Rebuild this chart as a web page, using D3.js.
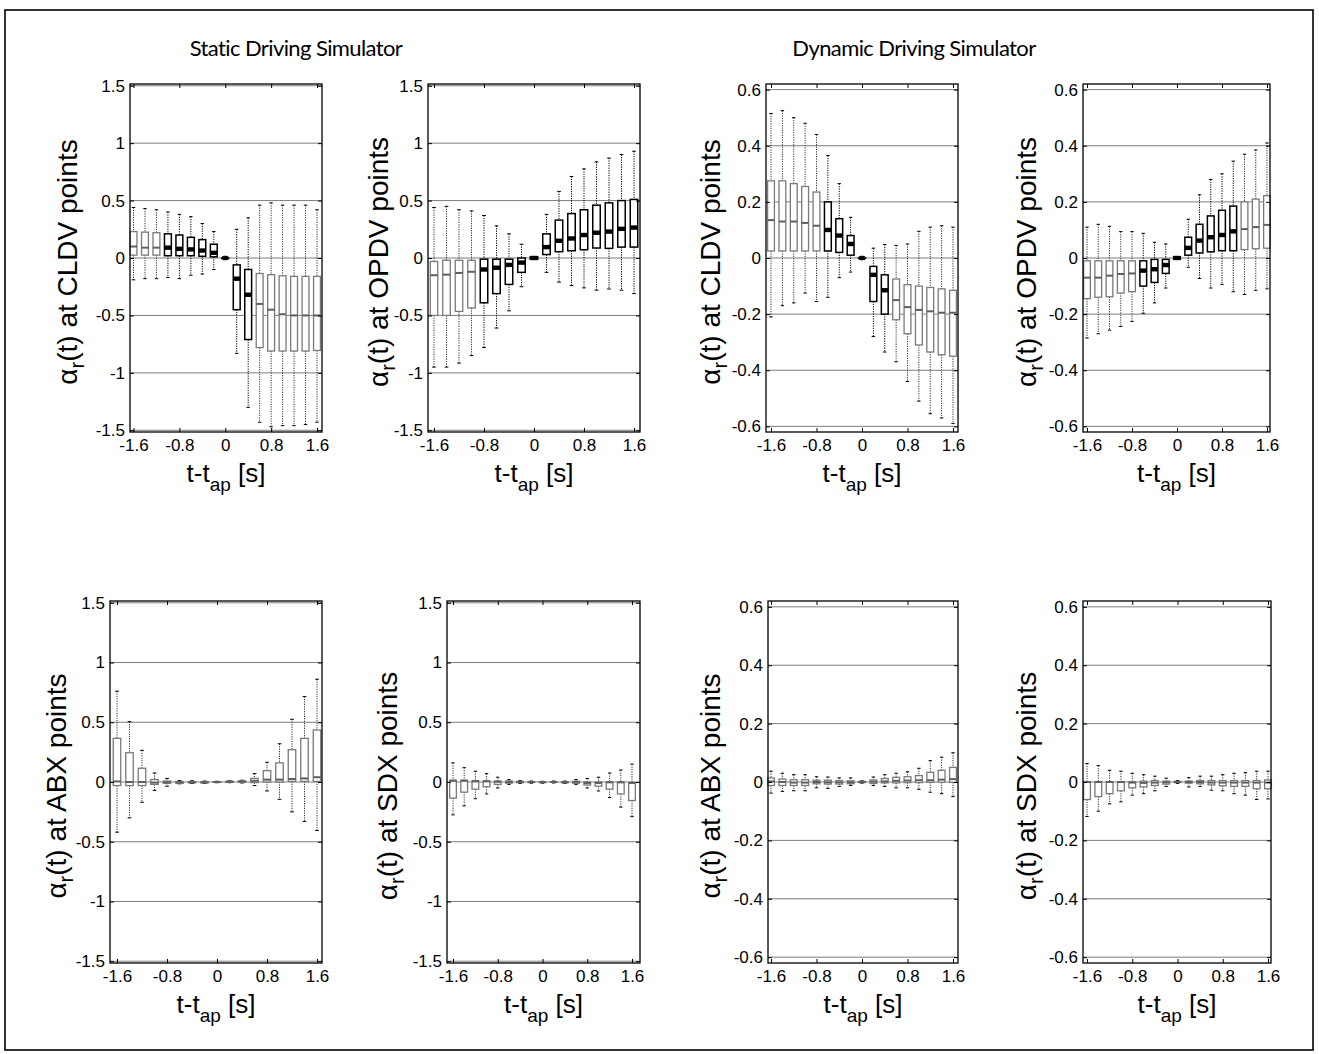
<!DOCTYPE html>
<html>
<head>
<meta charset="utf-8">
<script src="https://cdn.jsdelivr.net/npm/d3@7"></script>
<style>
  body { margin: 0; background: #fff; }
  svg text { font-family: "Liberation Sans", Arial, sans-serif; fill: #000; }
</style>
</head>
<body>
<svg id="fig" width="1319" height="1054"></svg>
<script>
// time offsets of the boxes (t - t_ap, seconds)
const times = [-1.6, -1.4, -1.2, -1.0, -0.8, -0.6, -0.4, -0.2, 0, 0.2, 0.4, 0.6, 0.8, 1.0, 1.2, 1.4, 1.6];
const xTicks = [-1.6, -0.8, 0, 0.8, 1.6];
const yTicksStatic = [-1.5, -1, -0.5, 0, 0.5, 1, 1.5];
const yTicksDynamic = [-0.6, -0.4, -0.2, 0, 0.2, 0.4, 0.6];
const groupTitles = ['Static Driving Simulator', 'Dynamic Driving Simulator'];

// each row: [lower whisker, q1, median, q3, upper whisker]
const staticCLDV = [
  [-0.19, 0.025, 0.10, 0.23, 0.44], [-0.18, 0.025, 0.09, 0.225, 0.43], [-0.18, 0.025, 0.09, 0.22, 0.42],
  [-0.17, 0.02, 0.09, 0.21, 0.40], [-0.18, 0.02, 0.08, 0.20, 0.38], [-0.15, 0.02, 0.075, 0.18, 0.36],
  [-0.14, 0.015, 0.065, 0.16, 0.30], [-0.10, 0.01, 0.045, 0.12, 0.23], [0, 0, 0, 0, 0],
  [-0.83, -0.45, -0.18, -0.06, 0.25], [-1.30, -0.71, -0.32, -0.10, 0.35], [-1.43, -0.78, -0.40, -0.135, 0.46],
  [-1.47, -0.81, -0.45, -0.145, 0.48], [-1.46, -0.81, -0.49, -0.155, 0.46], [-1.46, -0.81, -0.50, -0.16, 0.46],
  [-1.45, -0.81, -0.50, -0.16, 0.46], [-1.43, -0.805, -0.50, -0.16, 0.42]
];
const staticCLDVDark = [0, 0, 0, 1, 1, 1, 1, 1, 1, 1, 1, 0, 0, 0, 0, 0, 0];

const staticOPDV = [
  [-0.95, -0.50, -0.15, -0.03, 0.44], [-0.95, -0.50, -0.145, -0.02, 0.45], [-0.915, -0.465, -0.13, -0.02, 0.42],
  [-0.85, -0.435, -0.12, -0.02, 0.41], [-0.78, -0.39, -0.10, -0.01, 0.37], [-0.61, -0.31, -0.085, -0.01, 0.28],
  [-0.46, -0.23, -0.06, -0.01, 0.21], [-0.25, -0.125, -0.04, 0, 0.12], [-0.01, -0.01, 0, 0.01, 0.01],
  [-0.125, 0.03, 0.095, 0.21, 0.38], [-0.21, 0.055, 0.15, 0.33, 0.58], [-0.24, 0.063, 0.17, 0.387, 0.71],
  [-0.26, 0.072, 0.20, 0.42, 0.776], [-0.28, 0.087, 0.22, 0.46, 0.837], [-0.27, 0.084, 0.23, 0.48, 0.87],
  [-0.28, 0.095, 0.254, 0.50, 0.90], [-0.31, 0.095, 0.265, 0.51, 0.93]
];
const staticOPDVDark = [0, 0, 0, 0, 1, 1, 1, 1, 1, 1, 1, 1, 1, 1, 1, 1, 1];

const dynamicCLDV = [
  [-0.21, 0.025, 0.135, 0.275, 0.515], [-0.17, 0.025, 0.13, 0.275, 0.525], [-0.16, 0.025, 0.13, 0.265, 0.50],
  [-0.125, 0.025, 0.125, 0.255, 0.48], [-0.155, 0.025, 0.115, 0.235, 0.44], [-0.14, 0.025, 0.10, 0.20, 0.365],
  [-0.07, 0.02, 0.08, 0.14, 0.265], [-0.05, 0.01, 0.05, 0.08, 0.145], [0, 0, 0, 0, 0],
  [-0.28, -0.155, -0.06, -0.03, 0.035], [-0.335, -0.20, -0.115, -0.06, 0.048], [-0.37, -0.22, -0.15, -0.075, 0.045],
  [-0.44, -0.27, -0.175, -0.095, 0.05], [-0.51, -0.31, -0.185, -0.10, 0.095], [-0.555, -0.335, -0.19, -0.105, 0.11],
  [-0.57, -0.345, -0.195, -0.11, 0.115], [-0.59, -0.35, -0.195, -0.115, 0.11]
];
const dynamicCLDVDark = [0, 0, 0, 0, 0, 1, 1, 1, 1, 1, 1, 0, 0, 0, 0, 0, 0];

const dynamicOPDV = [
  [-0.285, -0.145, -0.07, -0.01, 0.11], [-0.27, -0.14, -0.07, -0.01, 0.12], [-0.257, -0.138, -0.063, -0.01, 0.113],
  [-0.244, -0.125, -0.057, -0.01, 0.094], [-0.226, -0.12, -0.055, -0.01, 0.094], [-0.197, -0.10, -0.045, -0.01, 0.088],
  [-0.16, -0.087, -0.04, -0.005, 0.056], [-0.107, -0.055, -0.025, -0.005, 0.05], [-0.004, -0.004, 0, 0.004, 0.004],
  [-0.033, 0.01, 0.036, 0.074, 0.138], [-0.073, 0.018, 0.062, 0.12, 0.225], [-0.107, 0.022, 0.074, 0.15, 0.28],
  [-0.094, 0.026, 0.082, 0.17, 0.30], [-0.12, 0.026, 0.095, 0.185, 0.345], [-0.13, 0.03, 0.103, 0.20, 0.37],
  [-0.115, 0.033, 0.11, 0.21, 0.385], [-0.11, 0.035, 0.118, 0.222, 0.41]
];
const dynamicOPDVDark = [0, 0, 0, 0, 0, 1, 1, 1, 1, 1, 1, 1, 1, 1, 0, 0, 0];

const staticABX = [
  [-0.42, -0.03, 0.005, 0.365, 0.76], [-0.30, -0.03, 0, 0.245, 0.505], [-0.17, -0.03, 0, 0.115, 0.265],
  [-0.07, -0.02, -0.005, 0.02, 0.075], [-0.035, -0.01, -0.003, 0.008, 0.03], [-0.015, -0.01, -0.004, 0.004, 0.012],
  [-0.012, -0.006, -0.002, 0.003, 0.01], [-0.012, -0.007, -0.003, 0.002, 0.008], [-0.006, -0.003, 0, 0.003, 0.006],
  [-0.006, -0.002, 0.002, 0.006, 0.01], [-0.008, -0.002, 0.004, 0.009, 0.015], [-0.03, -0.005, 0.01, 0.03, 0.07],
  [-0.075, 0, 0.02, 0.095, 0.165], [-0.145, 0, 0.02, 0.16, 0.32], [-0.25, 0.005, 0.025, 0.27, 0.525],
  [-0.33, 0.005, 0.03, 0.365, 0.715], [-0.405, 0.005, 0.04, 0.435, 0.86]
];

const staticSDX = [
  [-0.275, -0.135, 0.01, 0.015, 0.16], [-0.20, -0.085, 0.01, 0.015, 0.12], [-0.14, -0.06, 0.005, 0.012, 0.09],
  [-0.10, -0.04, 0.005, 0.01, 0.07], [-0.05, -0.02, 0.002, 0.008, 0.04], [-0.02, -0.01, 0, 0.008, 0.02],
  [-0.012, -0.005, 0, 0.005, 0.012], [-0.01, -0.004, 0, 0.003, 0.008], [-0.01, -0.004, -0.002, 0.002, 0.006],
  [-0.008, -0.003, 0, 0.003, 0.008], [-0.012, -0.006, -0.002, 0.003, 0.008], [-0.02, -0.01, -0.002, 0.006, 0.02],
  [-0.05, -0.025, -0.008, 0, 0.03], [-0.075, -0.035, -0.008, 0, 0.04], [-0.13, -0.06, -0.003, 0, 0.075],
  [-0.21, -0.10, -0.003, 0, 0.10], [-0.29, -0.155, -0.008, -0.005, 0.15]
];

const dynamicABX = [
  [-0.038, -0.012, 0.002, 0.014, 0.037], [-0.032, -0.012, 0, 0.01, 0.03], [-0.03, -0.012, -0.002, 0.008, 0.025],
  [-0.03, -0.012, -0.002, 0.008, 0.025], [-0.02, -0.006, 0, 0.006, 0.018], [-0.022, -0.007, -0.001, 0.006, 0.017],
  [-0.015, -0.007, -0.001, 0.005, 0.014], [-0.012, -0.006, -0.001, 0.004, 0.014], [-0.004, -0.002, 0, 0.002, 0.004],
  [-0.012, -0.005, 0.001, 0.007, 0.017], [-0.015, -0.003, 0.002, 0.012, 0.025], [-0.02, -0.003, 0.004, 0.016, 0.03],
  [-0.02, -0.002, 0.005, 0.018, 0.035], [-0.025, -0.002, 0.006, 0.022, 0.047], [-0.035, -0.001, 0.006, 0.033, 0.073],
  [-0.04, -0.001, 0.008, 0.04, 0.085], [-0.05, -0.001, 0.01, 0.05, 0.10]
];

const dynamicSDX = [
  [-0.118, -0.06, 0, 0.001, 0.063], [-0.10, -0.05, 0, 0.001, 0.056], [-0.075, -0.04, 0, 0.001, 0.04],
  [-0.068, -0.03, 0, 0.001, 0.037], [-0.045, -0.02, -0.002, 0.001, 0.03], [-0.04, -0.017, -0.003, 0.003, 0.025],
  [-0.03, -0.012, -0.002, 0.005, 0.02], [-0.015, -0.007, -0.001, 0.003, 0.013], [-0.005, -0.002, 0, 0.002, 0.005],
  [-0.017, -0.004, 0, 0.003, 0.015], [-0.015, -0.006, 0, 0.005, 0.02], [-0.028, -0.01, -0.002, 0.005, 0.02],
  [-0.03, -0.013, -0.002, 0.005, 0.025], [-0.04, -0.015, -0.002, 0.005, 0.03], [-0.045, -0.015, -0.002, 0.005, 0.032],
  [-0.06, -0.023, -0.002, 0.005, 0.037], [-0.058, -0.023, -0.002, 0.007, 0.037]
];
const noDark = times.map(() => 0);

// panel layout (pixel frame + where the outer boxes sit)
const panels = [
  { name: 'CLDV', data: staticCLDV, dark: staticCLDVDark, ticks: yTicksStatic, lim: 1.515, left: 130, right: 322, b0: 133.5, b1: 317, top: 84, bottom: 432, labelX: 77 },
  { name: 'OPDV', data: staticOPDV, dark: staticOPDVDark, ticks: yTicksStatic, lim: 1.515, left: 428, right: 640, b0: 434, b1: 634, top: 84, bottom: 432, labelX: 388 },
  { name: 'CLDV', data: dynamicCLDV, dark: dynamicCLDVDark, ticks: yTicksDynamic, lim: 0.62, left: 766, right: 958, b0: 771, b1: 953, top: 84, bottom: 432, labelX: 720 },
  { name: 'OPDV', data: dynamicOPDV, dark: dynamicOPDVDark, ticks: yTicksDynamic, lim: 0.62, left: 1083, right: 1270, b0: 1087, b1: 1267, top: 84, bottom: 432, labelX: 1036 },
  { name: 'ABX', data: staticABX, dark: noDark, ticks: yTicksStatic, lim: 1.515, left: 110, right: 322, b0: 117, b1: 317, top: 601, bottom: 963, labelX: 66 },
  { name: 'SDX', data: staticSDX, dark: noDark, ticks: yTicksStatic, lim: 1.515, left: 447, right: 640, b0: 453, b1: 632, top: 601, bottom: 963, labelX: 397 },
  { name: 'ABX', data: dynamicABX, dark: noDark, ticks: yTicksDynamic, lim: 0.62, left: 768, right: 958, b0: 771, b1: 953, top: 601, bottom: 963, labelX: 720 },
  { name: 'SDX', data: dynamicSDX, dark: noDark, ticks: yTicksDynamic, lim: 0.62, left: 1083, right: 1271, b0: 1087, b1: 1268, top: 601, bottom: 963, labelX: 1036 }
];

const svg = d3.select('#fig');

// outer frame
svg.append('rect')
  .attr('x', 5).attr('y', 10).attr('width', 1308).attr('height', 1040)
  .attr('fill', 'none').attr('stroke', '#000').attr('stroke-width', 1.6);

// group titles
svg.selectAll('.title')
  .data(groupTitles)
  .enter()
  .append('text')
  .attr('class', 'title')
  .attr('x', (d, i) => [296, 914][i])
  .attr('y', 56)
  .attr('text-anchor', 'middle')
  .style('font-family', 'Lato, "Open Sans", sans-serif')
  .style('font-size', '22px')
  .style('letter-spacing', '-0.6px')
  .text(d => d);

const GRAY = '#7a7a7a';

function drawPanel(p) {
  const g = svg.append('g');
  const x = d3.scaleLinear().domain([-1.6, 1.6]).range([p.b0, p.b1]);
  const y = d3.scaleLinear().domain([-p.lim, p.lim]).range([p.bottom, p.top]);
  const boxW = Math.abs(x(0.12) - x(0));

  // horizontal grid
  g.selectAll('.grid')
    .data(p.ticks)
    .enter()
    .append('line')
    .attr('x1', p.left).attr('x2', p.right)
    .attr('y1', d => y(d)).attr('y2', d => y(d))
    .attr('stroke', '#7d7d7d').attr('stroke-width', 1);

  const rows = p.data.map((r, i) => ({ t: times[i], lo: r[0], q1: r[1], med: r[2], q3: r[3], hi: r[4], dark: p.dark[i] }));

  const box = g.selectAll('.box')
    .data(rows)
    .enter()
    .append('g')
    .attr('class', 'box');

  // whiskers (dotted)
  box.append('line')
    .attr('x1', d => x(d.t)).attr('x2', d => x(d.t))
    .attr('y1', d => y(d.hi)).attr('y2', d => y(d.q3))
    .attr('stroke', d => d.dark ? '#000' : '#333')
    .attr('stroke-width', 1).attr('stroke-dasharray', '1.2,1.2');
  box.append('line')
    .attr('x1', d => x(d.t)).attr('x2', d => x(d.t))
    .attr('y1', d => y(d.q1)).attr('y2', d => y(d.lo))
    .attr('stroke', d => d.dark ? '#000' : '#333')
    .attr('stroke-width', 1).attr('stroke-dasharray', '1.2,1.2');
  // whisker caps
  ['hi', 'lo'].forEach(k => {
    box.append('line')
      .attr('x1', d => x(d.t) - boxW / 4).attr('x2', d => x(d.t) + boxW / 4)
      .attr('y1', d => y(d[k])).attr('y2', d => y(d[k]))
      .attr('stroke', '#000')
      .attr('stroke-width', 1);
  });

  // box
  box.append('rect')
    .attr('x', d => x(d.t) - boxW / 2)
    .attr('y', d => y(d.q3))
    .attr('width', boxW)
    .attr('height', d => Math.max(y(d.q1) - y(d.q3), 0.5))
    .attr('fill', '#fff')
    .attr('stroke', d => d.dark ? '#000' : GRAY)
    .attr('stroke-width', d => d.dark ? 1.5 : 1.3);

  // median
  box.append('rect')
    .attr('x', d => x(d.t) - boxW / 2)
    .attr('y', d => y(d.med) - (d.dark ? 2.2 : 1))
    .attr('width', boxW)
    .attr('height', d => d.dark ? 4.4 : 2)
    .attr('rx', d => d.dark && d.q3 - d.q1 < 0.001 ? 2.2 : 0)
    .attr('fill', d => d.dark ? '#000' : '#5f5f5f');

  // axes: MATLAB style inward ticks
  const xAxisB = d3.axisBottom(x).tickValues(xTicks).tickSize(-4).tickPadding(7).tickFormat(d => String(d));
  const xAxisT = d3.axisTop(x).tickValues(xTicks).tickSize(-4).tickFormat('');
  const yAxisL = d3.axisLeft(y).tickValues(p.ticks).tickSize(-4).tickPadding(5).tickFormat(d => String(d));
  const yAxisR = d3.axisRight(y).tickValues(p.ticks).tickSize(-4).tickFormat('');

  [[xAxisB, `translate(0,${p.bottom})`], [xAxisT, `translate(0,${p.top})`],
   [yAxisL, `translate(${p.left},0)`], [yAxisR, `translate(${p.right},0)`]].forEach(([ax, tr]) => {
    const a = g.append('g').attr('transform', tr).call(ax);
    a.select('.domain').remove();
    a.selectAll('line').attr('stroke', '#000');
    a.selectAll('text').style('font-size', '17px').style('font-family', '"Liberation Sans", Arial, sans-serif');
  });

  // frame
  g.append('rect')
    .attr('x', p.left).attr('y', p.top)
    .attr('width', p.right - p.left).attr('height', p.bottom - p.top)
    .attr('fill', 'none').attr('stroke', '#000').attr('stroke-width', 1.3);

  // y label: alpha_r(t) at XXX points
  const yl = g.append('text')
    .attr('transform', `translate(${p.labelX},${(p.top + p.bottom) / 2 + 4}) rotate(-90)`)
    .attr('text-anchor', 'middle')
    .style('font-size', '28px');
  yl.append('tspan').text('α');
  yl.append('tspan').attr('dy', 7).style('font-size', '20px').text('r');
  yl.append('tspan').attr('dy', -7).text(`(t) at ${p.name} points`);

  // x label: t - t_ap [s]
  const xl = g.append('text')
    .attr('x', (p.left + p.right) / 2)
    .attr('y', p.bottom + 50)
    .attr('text-anchor', 'middle')
    .style('font-size', '26px');
  xl.append('tspan').text('t-t');
  xl.append('tspan').attr('dy', 9).style('font-size', '19px').text('ap');
  xl.append('tspan').attr('dy', -9).text(' [s]');
}

panels.forEach(drawPanel);
</script>
</body>
</html>
